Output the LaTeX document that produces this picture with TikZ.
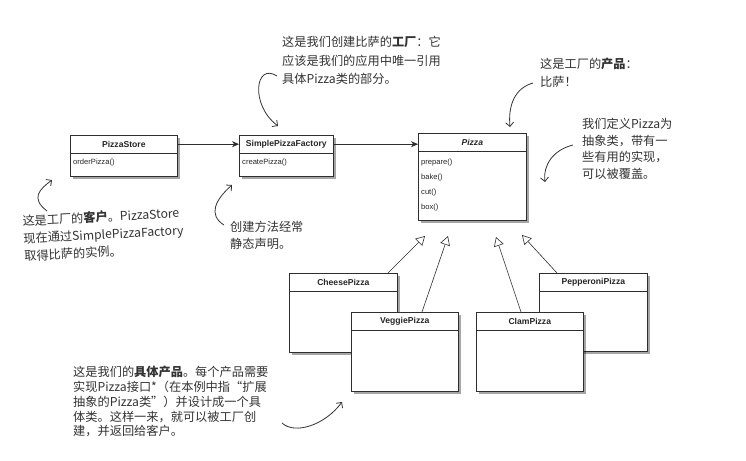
\documentclass[tikz,border=0pt]{standalone}
\usepackage{fontspec}
\setsansfont{Liberation Sans}
\newfontfamily\handfont{Noto Sans CJK SC}
\usetikzlibrary{arrows.meta, positioning, calc, shadows}
\definecolor{umlline}{HTML}{2E2E2E}
\definecolor{notegray}{HTML}{333333}

\begin{document}
\begin{tikzpicture}[x=1pt, y=-1pt,
    classbox/.style={rectangle, draw=umlline, line width=0.6pt, fill=white, anchor=north west, inner sep=0pt, drop shadow={shadow xshift=3pt, shadow yshift=-3pt, fill=black, opacity=0.35}},
    classhead/.style={anchor=north, minimum height=18pt, inner sep=0pt, font=\sffamily\bfseries\fontsize{8.6}{10}\selectfont, text=black!85},
    method/.style={anchor=north west, inner sep=0pt, align=left, font=\sffamily\fontsize{7.6}{15}\selectfont, text=black!85},
    note/.style={anchor=north west, inner sep=0pt, align=left, text=notegray, font=\handfont\fontsize{12.2}{#1}\selectfont},
    hand/.style={-{Straight Barb[length=4pt, width=8pt]}, line width=0.8pt, draw=notegray},
    assoc/.style={-{Stealth[length=7pt, width=6pt]}, line width=0.6pt, draw=umlline},
    inherit/.style={-{Triangle[open, length=9pt, width=10pt, fill=white]}, line width=0.6pt, draw=umlline}
]
\fill[white] (0,0) rectangle (746,460);
\useasboundingbox (0,0) rectangle (746,460);

% Client and factory
\node[classbox, minimum width=107pt, minimum height=41pt] (store) at (70,135) {};
\node[classhead] (storehead) at (store.north) {PizzaStore};
\draw[umlline, line width=0.6pt] (storehead.south -| store.west) -- (storehead.south -| store.east);
\node[method] (storeops) at ([xshift=3pt, yshift=-24pt]store.north west) {orderPizza()};

\node[classbox, minimum width=94pt, minimum height=41pt] (factory) at (239,135) {};
\node[classhead] (factoryhead) at (factory.north) {SimplePizzaFactory};
\draw[umlline, line width=0.6pt] (factoryhead.south -| factory.west) -- (factoryhead.south -| factory.east);
\node[method] (factoryops) at ([xshift=3pt, yshift=-24pt]factory.north west) {createPizza()};

% Abstract product
\node[classbox, minimum width=108pt, minimum height=87pt] (pizza) at (418,133) {};
\node[classhead, font=\sffamily\bfseries\itshape\fontsize{8.6}{10}\selectfont] (pizzahead) at (pizza.north) {Pizza};
\draw[umlline, line width=0.6pt] (pizzahead.south -| pizza.west) -- (pizzahead.south -| pizza.east);
\node[method] (pizzaops) at ([xshift=3pt, yshift=-26pt]pizza.north west) {prepare()\\bake()\\cut()\\box()};

\draw[assoc] (store.east |- storehead) -- (factory.west |- factoryhead);
\draw[assoc] (factory.east |- factoryhead) -- (pizza.west |- factoryhead);

% Concrete products
\node[classbox, minimum width=108pt, minimum height=79pt] (cheese) at (289,273) {};
\node[classhead] (cheesehead) at (cheese.north) {CheesePizza};
\draw[umlline, line width=0.6pt] (cheesehead.south -| cheese.west) -- (cheesehead.south -| cheese.east);

\node[classbox, minimum width=108pt, minimum height=78pt] (pepperoni) at (539,273) {};
\node[classhead] (pepperonihead) at (pepperoni.north) {PepperoniPizza};
\draw[umlline, line width=0.6pt] (pepperonihead.south -| pepperoni.west) -- (pepperonihead.south -| pepperoni.east);

\node[classbox, minimum width=107pt, minimum height=79pt] (veggie) at (351,312) {};
\node[classhead] (veggiehead) at (veggie.north) {VeggiePizza};
\draw[umlline, line width=0.6pt] (veggiehead.south -| veggie.west) -- (veggiehead.south -| veggie.east);

\node[classbox, minimum width=107pt, minimum height=79pt] (clam) at (476,312) {};
\node[classhead] (clamhead) at (clam.north) {ClamPizza};
\draw[umlline, line width=0.6pt] (clamhead.south -| clam.west) -- (clamhead.south -| clam.east);

\coordinate (tipcheese) at (425,236);
\coordinate (tipveggie) at (448,236);
\coordinate (tipclam) at (496,237);
\coordinate (tippepperoni) at (522,235);
\draw[inherit] ([xshift=99pt]cheese.north west) -- (tipcheese);
\draw[inherit] ([xshift=71pt]veggie.north west) -- (tipveggie);
\draw[inherit] ([xshift=45pt]clam.north west) -- (tipclam);
\draw[inherit] ([xshift=18pt]pepperoni.north west) -- (tippepperoni);

% Notes
\node[note=18.5] (factorynote) at (282,36) {这是我们创建比萨的\textbf{工厂}：它\\应该是我们的应用中唯一引用\\具体Pizza类的部分。};
\node[note=18] (productnote) at (540,58) {这是工厂的\textbf{产品}：\\比萨！};
\node[note=16.5] (abstractnote) at (582,118) {我们定义Pizza为\\抽象类，带有一\\些有用的实现，\\可以被覆盖。};
\node[note=17.5, rotate=3] (clientnote) at (22,215) {这是工厂的\textbf{客户}。PizzaStore\\现在通过SimplePizzaFactory\\取得比萨的实例。};
\node[note=17] (staticnote) at (230,221) {创建方法经常\\静态声明。};
\node[note=14.8] (concretenote) at (73,366) {这是我们的\textbf{具体产品}。每个产品需要\\实现Pizza接口*（在本例中指“扩展\\抽象的Pizza类”）并设计成一个具\\体类。这样一来，就可以被工厂创\\建，并返回给客户。};

% Hand drawn pointers
\coordinate (factoryfrom) at (277,76);
\coordinate (factoryto) at (278,126);
\draw[hand] (factoryfrom) .. controls (255,62) and (250,105) .. (factoryto);
\coordinate (productfrom) at (533,83);
\coordinate (productto) at (510,127);
\draw[hand] (productfrom) .. controls (515,88) and (508,105) .. (productto);
\coordinate (abstractfrom) at (573,145);
\coordinate (abstractto) at (545,182);
\draw[hand] (abstractfrom) .. controls (553,150) and (543,165) .. (abstractto);
\coordinate (clientfrom) at (47,211);
\coordinate (clientto) at (52,180);
\draw[hand] (clientfrom) .. controls (30,198) and (40,189) .. (clientto);
\coordinate (staticfrom) at (224,225);
\coordinate (staticto) at (232,185);
\draw[hand] (staticfrom) .. controls (208,215) and (215,200) .. (staticto);
\coordinate (concretefrom) at (282,423);
\coordinate (concreteto) at (342,402);
\draw[hand] (concretefrom) .. controls (295,435) and (325,425) .. (concreteto);

\end{tikzpicture}
\end{document}
